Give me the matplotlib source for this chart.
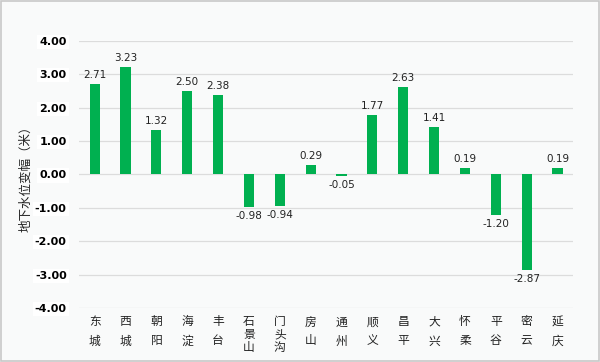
import matplotlib
matplotlib.use("Agg")
import matplotlib.pyplot as plt
from matplotlib.patches import Rectangle

plt.rcParams['font.family'] = ['Noto Sans CJK SC', 'DejaVu Sans']

districts = ["东城", "西城", "朝阳", "海淀", "丰台", "石景山", "门头沟", "房山",
             "通州", "顺义", "昌平", "大兴", "怀柔", "平谷", "密云", "延庆"]
changes = [2.71, 3.23, 1.32, 2.50, 2.38, -0.98, -0.94, 0.29,
           -0.05, 1.77, 2.63, 1.41, 0.19, -1.20, -2.87, 0.19]
yticks = [4, 3, 2, 1, 0, -1, -2, -3, -4]

bg = '#f9fafa'
fig = plt.figure(figsize=(6, 3.62), dpi=100, facecolor=bg)
fig.patches.append(Rectangle((0.002, 0.003), 0.996, 0.994, transform=fig.transFigure,
                             fill=False, edgecolor='#c8c8c8', linewidth=1.2))
ax = fig.add_axes([0.132, 0.149, 0.823, 0.738])
ax.set_facecolor(bg)

x = list(range(len(districts)))
ax.bar(x, changes, width=0.33, color='#00b050', zorder=3)

for xi, v in zip(x, changes):
    if v >= 0:
        ax.text(xi, v + 0.12, f"{v:.2f}", ha='center', va='bottom', fontsize=7.5,
                color='#222222', family='DejaVu Sans')
    else:
        ax.text(xi, v - 0.12, f"{v:.2f}", ha='center', va='top', fontsize=7.5,
                color='#222222', family='DejaVu Sans')

ax.set_xlim(-0.5, len(districts) - 0.5)
ax.set_ylim(-4, 4)
ax.set_yticks(yticks)
ax.set_yticklabels([f"{t:.2f}" for t in yticks], fontsize=8, fontweight='semibold',
                   family='DejaVu Sans')
for lbl in ax.get_yticklabels():
    lbl.set_bbox(dict(facecolor='white', edgecolor='none', pad=1.5))
ax.tick_params(axis='y', length=0, pad=9)
ax.yaxis.grid(True, color='#dcdcdc', linewidth=0.9, zorder=0)
ax.set_axisbelow(True)
for s in ax.spines.values():
    s.set_visible(False)

ax.set_xticks(x)
ax.set_xticklabels([])
ax.tick_params(axis='x', length=0)
for xi, name in zip(x, districts):
    ls = 1.0 if len(name) > 2 else 1.6
    ax.text(xi, -4.22, "\n".join(name), ha='center', va='top', fontsize=8.5,
            linespacing=ls, color='#222222', transform=ax.transData, clip_on=False)

fig.text(0.043, 0.515, "地下水位变幅（米）", rotation=90, ha='center', va='center',
         fontsize=9, color='#222222')

fig.savefig("out.png", dpi=100, facecolor=bg)
